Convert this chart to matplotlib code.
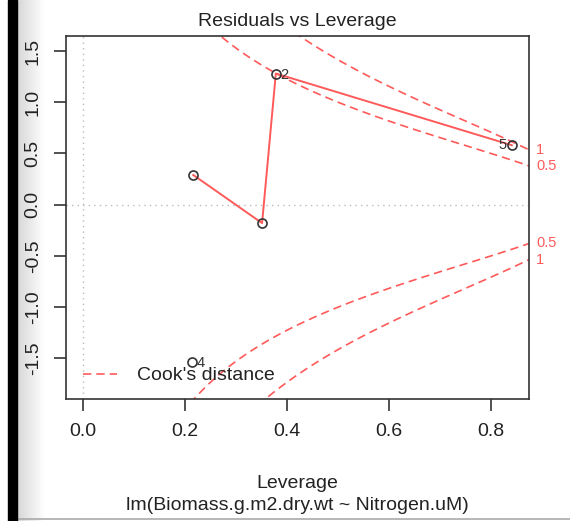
import numpy as np
import matplotlib
matplotlib.use("Agg")
import matplotlib.pyplot as plt
from matplotlib.patches import Rectangle
from matplotlib.transforms import blended_transform_factory

plt.rcParams['font.family'] = ['Liberation Sans', 'DejaVu Sans']

# Fitted-model diagnostics
obs_id = ["1", "2", "3", "4", "5"]
leverage = [0.216, 0.378, 0.351, 0.214, 0.841]
std_resid = [0.29, 1.28, -0.18, -1.535, 0.58]
labelled = ["2", "4", "5"]

# Smoother through the residuals (sorted by leverage)
smooth_h = [0.216, 0.351, 0.378, 0.841]
smooth_r = [0.29, -0.18, 1.28, 0.58]

cook_levels = [0.5, 1.0]
n_params = 2

RED = '#ff5a5a'
INK = '#333333'
TXT = '#222222'

W, H = 570, 521
fig = plt.figure(figsize=(W / 100, H / 100), dpi=100)
ax_l, ax_r, ax_t, ax_b = 66, 529, 36, 399
ax = fig.add_axes([ax_l / W, 1 - ax_b / H, (ax_r - ax_l) / W, (ax_b - ax_t) / H])

xlim = (-0.0337, 0.8747)
ylim = (-1.896, 1.646)
ax.set_xlim(*xlim)
ax.set_ylim(*ylim)

# reference lines
ax.axhline(0, color='#bbbbbb', lw=1.0, ls=(0, (1, 3)), zorder=1)
ax.axvline(0, color='#bbbbbb', lw=1.0, ls=(0, (1, 3)), zorder=1)

# Cook's distance contours
hh = np.linspace(min(leverage[0], leverage[1] / 100), xlim[1], 101)
for crit in cook_levels:
    cl = np.sqrt(crit * n_params * (1 - hh) / hh)
    ax.plot(hh, cl, color=RED, lw=1.2, ls=(0, (5, 3)), zorder=2)
    ax.plot(hh, -cl, color=RED, lw=1.2, ls=(0, (5, 3)), zorder=2)

# smoother
ax.plot(smooth_h, smooth_r, color=RED, lw=1.4, zorder=3)

# observations
ax.plot(leverage, std_resid, ls='none', marker='o', ms=6.5, mfc='none',
        mec=INK, mew=1.2, zorder=4)

mid = (min(leverage) + max(leverage)) / 2
for lab, h, r in zip(obs_id, leverage, std_resid):
    if lab in labelled:
        if h > mid:
            ax.annotate(lab, (h, r), xytext=(-4, 0), textcoords='offset points',
                        ha='right', va='center', fontsize=10.5, color=INK)
        else:
            ax.annotate(lab, (h, r), xytext=(3, -1), textcoords='offset points',
                        ha='left', va='center', fontsize=10.5, color=INK)

# contour level labels on the right
xmax = min(0.99, xlim[1])
ymult = np.sqrt(n_params * (1 - xmax) / xmax)
aty = np.sqrt(cook_levels) * ymult
for lvl, y in zip(cook_levels, aty):
    txt = f"{lvl:g}"
    for yy in (y, -y):
        ax.annotate(txt, (1.0, yy), xycoords=('axes fraction', 'data'),
                    xytext=(5, 0), textcoords='offset points',
                    ha='left', va='center', fontsize=10.5, color=RED,
                    annotation_clip=False)

# legend (bottom-left, no box)
aw, ah = ax_r - ax_l, ax_b - ax_t
ax.plot([(83 - ax_l) / aw, (117 - ax_l) / aw], [(ax_b - 374) / ah] * 2,
        transform=ax.transAxes, color=RED, lw=1.2, ls=(0, (5, 3)), zorder=2)
ax.text((137 - ax_l) / aw, (ax_b - 376) / ah, "Cook's distance",
        transform=ax.transAxes, ha='left', va='center', fontsize=14, color=TXT,
        zorder=5)

# axes styling
for s in ax.spines.values():
    s.set_color(INK)
    s.set_linewidth(1.2)
ax.set_xticks([0.0, 0.2, 0.4, 0.6, 0.8])
ax.set_xticklabels(["0.0", "0.2", "0.4", "0.6", "0.8"])
ax.set_yticks([-1.5, -1.0, -0.5, 0.0, 0.5, 1.0, 1.5])
ax.set_yticklabels(["-1.5", "-1.0", "-0.5", "0.0", "0.5", "1.0", "1.5"],
                   rotation=90, va='center')
ax.tick_params(axis='both', direction='out', length=8.5, width=1.2,
               color=INK, labelsize=14, labelcolor=TXT, pad=9)

ax.set_title("Residuals vs Leverage", fontsize=14, color=TXT, pad=7)
fig.text((ax_l + ax_r) / 2 / W, 1 - 483 / H, "Leverage", ha='center',
         va='center', fontsize=14, color=TXT)
fig.text((ax_l + ax_r) / 2 / W, 1 - 505 / H,
         "lm(Biomass.g.m2.dry.wt ~ Nitrogen.uM)", ha='center', va='center',
         fontsize=14, color=TXT)

# window edge: dark border with soft shadow
fig.patches.append(Rectangle((8 / W, 0), 9 / W, 1, transform=fig.transFigure,
                             color='black', zorder=10))
shade = fig.add_axes([17 / W, 0, 28 / W, 1], zorder=-1)
grad = np.linspace(0.84, 1.0, 64)[None, :]
shade.imshow(grad, cmap='gray', vmin=0, vmax=1, aspect='auto',
             extent=(0, 1, 0, 1))
shade.axis('off')
fig.add_artist(plt.Line2D([17 / W, 1], [2.5 / H, 2.5 / H],
                          color='#aaaaaa', lw=1.2, transform=fig.transFigure))

fig.savefig("out.png", dpi=100)
